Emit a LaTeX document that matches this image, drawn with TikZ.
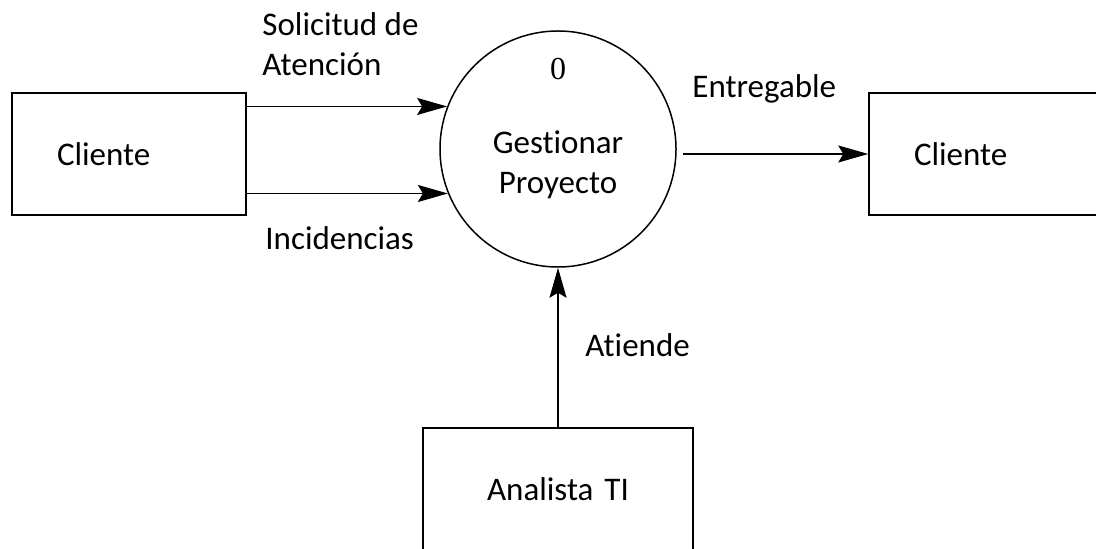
\documentclass[tikz,border=0pt]{standalone}
\usepackage{fontspec}
\setmainfont{Carlito}[Ligatures=NoCommon]
\newfontfamily\numfont{Liberation Serif}
\usetikzlibrary{arrows.meta,positioning}
\tikzstyle{entity} = [rectangle, draw=black, line width=0.75pt, minimum height=61pt, inner xsep=22.5pt, text width=72pt, align=left]
\tikzstyle{process} = [circle, draw=black, line width=0.75pt, minimum size=118pt, inner sep=0pt]
\tikzstyle{arrow} = [line width=0.75pt, -{Stealth[length=15pt, width=8.5pt, inset=2.5pt]}]
\tikzstyle{flow} = [inner sep=0pt, align=left]

\begin{document}
\begin{tikzpicture}[x=0.5pt, y=-0.5pt, font=\fontsize{16.5}{20}\selectfont]
    \useasboundingbox (0,0) rectangle (1096,549);

    \node (src) [entity] at (129,154) {Cliente};
    \node (proc) [process] at (558,149) {};
    \node (dst) [entity] at (986,154) {Cliente};
    \node (ana) [entity, text width=90pt, align=center] at (558,489) {Analista TI};

    \node (num) [font=\numfont\fontsize{16}{20}\selectfont] at (558,69) {0};
    \node (procname) [align=center] at (558,165) {Gestionar\\Proyecto};

    \draw[arrow] (src.east |- proc.159) -- (proc.159);
    \draw[arrow] (src.east |- proc.202) -- (proc.202);
    \draw[arrow, shorten <=3pt] (proc.east |- dst.west) -- (dst.west);
    \draw[arrow] (ana) -- (proc);

    \node (solicitud) [flow, anchor=north west] at (262,12) {Solicitud de\\Atención};
    \node (incid) [flow, anchor=base west] at (265,250) {Incidencias};
    \node (entreg) [flow, anchor=base west] at (692,98) {Entregable};
    \node (atiende) [flow, anchor=base west] at (585,357) {Atiende};
  \end{tikzpicture}
\end{document}
